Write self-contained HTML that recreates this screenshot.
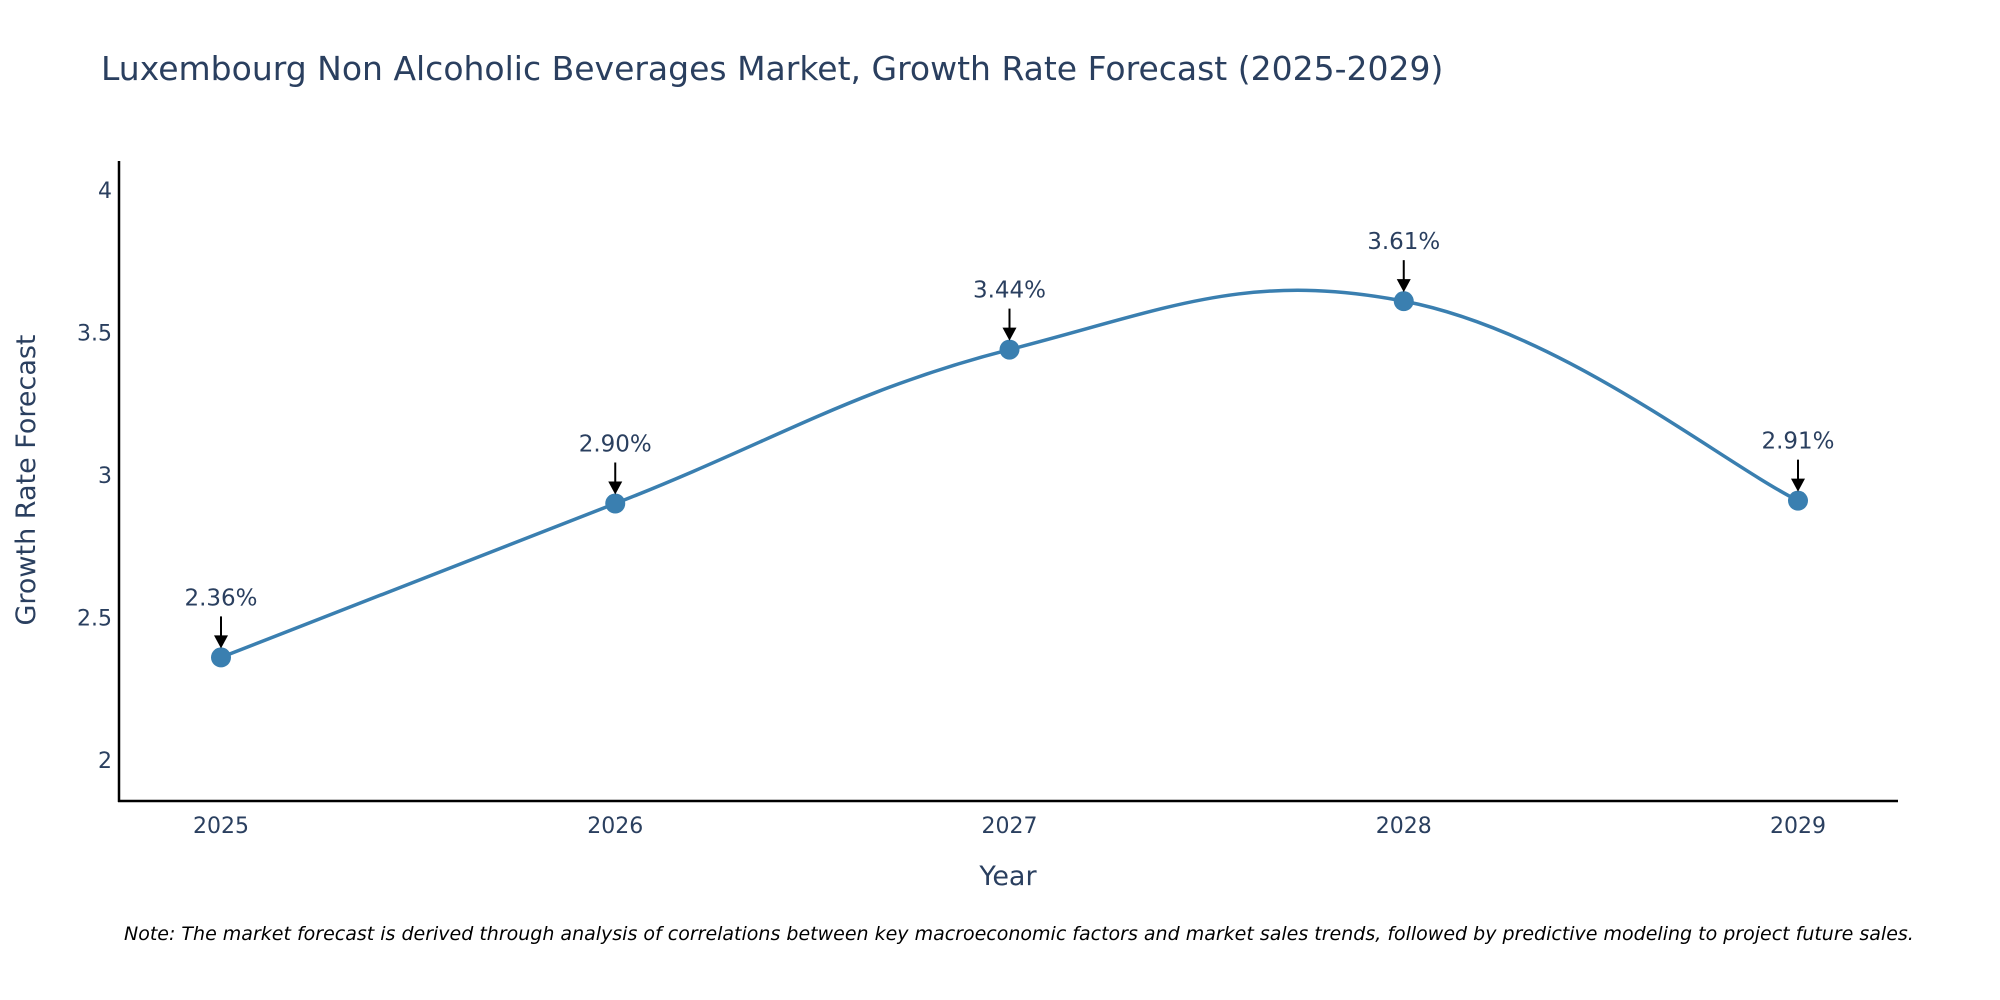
<!DOCTYPE html>
<html><head><meta charset="utf-8"><style>
body{margin:0;background:#fff;}
svg{display:block;font-family:"DejaVu Sans","Liberation Sans",sans-serif;}
</style></head><body>
<svg width="2000" height="1000" viewBox="0 0 2000 1000">
<text x="101" y="80" font-size="33" fill="#2a3f5f">Luxembourg Non Alcoholic Beverages Market, Growth Rate Forecast (2025-2029)</text>
<g id="yticks"></g>
<g id="xticks"></g>
<line x1="119" y1="161" x2="119" y2="802" stroke="#000" stroke-width="2.5"/>
<line x1="118" y1="801" x2="1898" y2="801" stroke="#000" stroke-width="2.5"/>
<path id="line" fill="none" stroke="#3a7fb0" stroke-width="3.5"/>
<g id="points"></g>
<g id="annots"></g>
<text x="1008" y="885" font-size="27" fill="#2a3f5f" text-anchor="middle">Year</text>
<text transform="translate(35,480) rotate(-90)" font-size="27" fill="#2a3f5f" text-anchor="middle">Growth Rate Forecast</text>
<text x="124" y="940" font-size="19" font-style="italic" fill="#000">Note: The market forecast is derived through analysis of correlations between key macroeconomic factors and market sales trends, followed by predictive modeling to project future sales.</text>
</svg>
<script>
const years=[2025,2026,2027,2028,2029];
const values=[2.36,2.90,3.44,3.61,2.91];
const labels=["2.36%","2.90%","3.44%","3.61%","2.91%"];
const yTicks=[2,2.5,3,3.5,4];
const yTickLabels=["2","2.5","3","3.5","4"];
const NS="http://www.w3.org/2000/svg";
function xs(v){return 221+(v-2025)*(1798-221)/4;}
function ys(v){return 760-(v-2)*285;}
function mk(t,a,p){const e=document.createElementNS(NS,t);for(const k in a)e.setAttribute(k,a[k]);p.appendChild(e);return e;}
const yg=document.getElementById('yticks');
yTicks.forEach((t,i)=>{const e=mk('text',{x:112,y:ys(t)+8,'font-size':22,fill:'#2a3f5f','text-anchor':'end'},yg);e.textContent=yTickLabels[i];

});
const xg=document.getElementById('xticks');
years.forEach(y=>{const e=mk('text',{x:xs(y),y:833,'font-size':22,fill:'#2a3f5f','text-anchor':'middle'},xg);e.textContent=y;

});
const P=years.map((y,i)=>[xs(y),ys(values[i])]);
let d=`M${P[0][0]},${P[0][1]}`;
for(let i=0;i<P.length-1;i++){const p0=P[Math.max(0,i-1)],p1=P[i],p2=P[i+1],p3=P[Math.min(P.length-1,i+2)];
const t=1/5;
const c1=[p1[0]+(p2[0]-p0[0])*t,p1[1]+(p2[1]-p0[1])*t],c2=[p2[0]-(p3[0]-p1[0])*t,p2[1]-(p3[1]-p1[1])*t];
d+=` C${c1[0]},${c1[1]} ${c2[0]},${c2[1]} ${p2[0]},${p2[1]}`;}
document.getElementById('line').setAttribute('d',d);
const pg=document.getElementById('points'),ag=document.getElementById('annots');
P.forEach((p,i)=>{const c=mk('circle',{cx:p[0],cy:p[1],r:10,fill:'#3a7fb0'},pg);


const l=mk('line',{x1:p[0],y1:p[1]-41,x2:p[0],y2:p[1]-20,stroke:'#000','stroke-width':2},ag);


const h=mk('polygon',{points:`${p[0]-7},${p[1]-22} ${p[0]+7},${p[1]-22} ${p[0]},${p[1]-9}`,fill:'#000'},ag);


const tx=mk('text',{x:p[0],y:p[1]-52,'font-size':23,fill:'#2a3f5f','text-anchor':'middle'},ag);tx.textContent=labels[i];

});
</script>
</body></html>
